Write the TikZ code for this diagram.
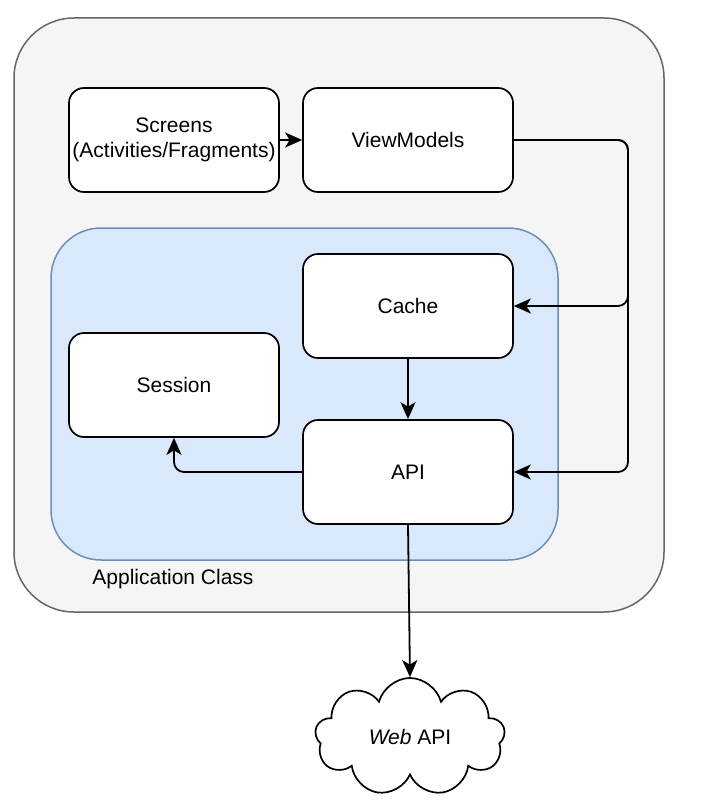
\documentclass[tikz,border=0pt]{standalone}
\usepackage{fontspec}
\setmainfont{Liberation Sans}
\usetikzlibrary{positioning, arrows.meta, shapes.symbols}

\begin{document}
\begin{tikzpicture}[x=1pt, y=-1pt,
    font=\fontsize{21}{25}\selectfont,
    box/.style={draw, line width=1.7pt, fill=white, rounded corners=15pt,
        minimum width=210pt, minimum height=104pt, align=center},
    conn/.style={line width=1.8pt, rounded corners=10pt, -{Stealth[length=17pt, width=15pt, inset=4.5pt]}}]
    \useasboundingbox (0,0) rectangle (712,805);

    % Containers
    \node[draw=black!60, fill=black!4, line width=1.5pt, rounded corners=60pt,
        minimum width=650pt, minimum height=594pt] (app) at (339,315) {};
    \node[draw={rgb,255:red,108;green,142;blue,191}, fill={rgb,255:red,218;green,232;blue,252},
        line width=1.5pt, rounded corners=50pt,
        minimum width=507pt, minimum height=332pt] (core) at (304.5,394) {};
    \node (applbl) at (173,579) {Application Class};

    % Boxes
    \node[box] (screens) at (174,140) {Screens\\(Activities/Fragments)};
    \node[box] (vm)      at (408,140) {ViewModels};
    \node[box] (cache)   at (408,306) {Cache};
    \node[box] (session) at (174,385) {Session};
    \node[box] (api)     at (408,472) {API};

    % Cloud
    \node[cloud, draw, line width=1.7pt, fill=white, cloud puffs=9, aspect=1.7,
        minimum width=190pt, minimum height=118pt] (web) at (410,737) {\textit{Web} API};

    % Connectors
    \coordinate (bend) at (628,140);
    \draw[conn] (screens) -- (vm);
    \draw[conn] (vm.east) -- (bend) |- (cache.east);
    \draw[conn] (vm.east) -- (bend) |- (api.east);
    \draw[conn] (cache) -- (api);
    \draw[conn] (api.west) -| (session.south);
    \draw[conn] (api.south) -- (web.north);
\end{tikzpicture}
\end{document}
